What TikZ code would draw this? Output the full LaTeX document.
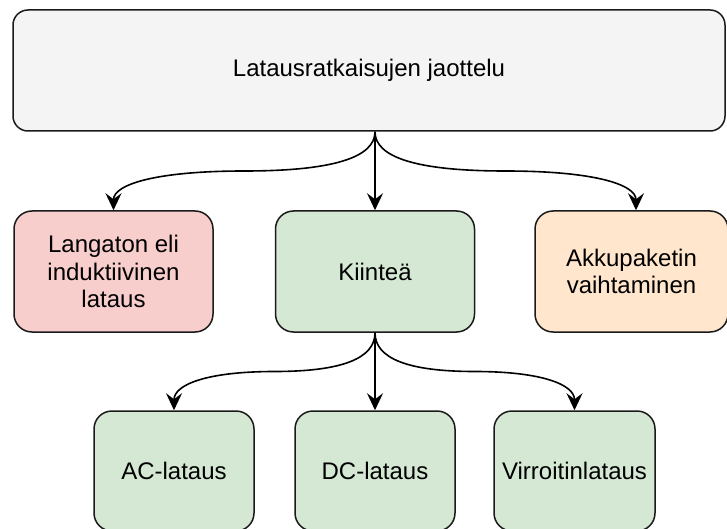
\documentclass[tikz,border=0pt]{standalone}
\usepackage{fontspec}
\setmainfont{Liberation Sans}
\usetikzlibrary{arrows.meta,calc}

\definecolor{boxline}{HTML}{1A1A1A}
\definecolor{rootfill}{HTML}{F4F4F4}
\definecolor{redfill}{HTML}{F8CECC}
\definecolor{greenfill}{HTML}{D5E8D4}
\definecolor{orangefill}{HTML}{FFE6CC}

\tikzset{
  box/.style={draw=boxline, line width=1.5pt, rounded corners=18pt,
    align=center, inner sep=0pt, text=black,
    font=\fontsize{24}{27.8}\selectfont},
  link/.style={draw=black, line width=1.6pt,
    -{Stealth[length=17pt,width=16pt,inset=6pt]}},
}

% draw.io style curved connector: vertical out, horizontal middle, vertical in
\newcommand\treelink[2]{%
  \draw[link] let \p1=(#1), \p2=(#2),
      \n1={0.5*(\y1+\y2)}, \n2={0.5*(\x1+\x2)} in
    (\p1) .. controls (\x1,{\y1+2/3*(\n1-\y1)}) and ({\n2+2/3*(\x1-\n2)},\n1)
    .. (\n2,\n1)
    .. controls ({\n2+2/3*(\x2-\n2)},\n1) and (\x2,{\y2+2/3*(\n1-\y2)})
    .. (\p2);}

\begin{document}
\begin{tikzpicture}[x=1pt,y=-1pt]
  \useasboundingbox (0,0) rectangle (727,529);
  \clip (0,0) rectangle (727,529);

  % root
  \node[box, fill=rootfill, rounded corners=15pt,
        minimum width=712pt, minimum height=121pt] (root) at (369,70.5)
        {Latausratkaisujen jaottelu};

  % second level
  \node[box, fill=redfill, minimum width=199pt, minimum height=121pt]
        (wireless) at (113.5,271.5) {Langaton eli\\induktiivinen\\lataus};
  \node[box, fill=greenfill, minimum width=199pt, minimum height=121pt]
        (fixed) at (375,271.5) {Kiinteä};
  \node[box, fill=orangefill, minimum width=193pt, minimum height=121pt]
        (swap) at (631.5,271.5) {Akkupaketin\\vaihtaminen};

  % third level
  \node[box, fill=greenfill, minimum width=160pt, minimum height=120pt]
        (ac) at (174,471) {AC-lataus};
  \node[box, fill=greenfill, minimum width=160pt, minimum height=120pt]
        (dc) at (375,471) {DC-lataus};
  \node[box, fill=greenfill, minimum width=161pt, minimum height=120pt]
        (pant) at (574.5,471) {Virroitinlataus};

  % connectors
  \coordinate (rootout) at (root.south -| fixed.north);
  \treelink{rootout}{wireless.north}
  \draw[link] (rootout) -- (fixed.north);
  \treelink{rootout}{[xshift=4.5pt]swap.north}

  \coordinate (fixedout) at (fixed.south -| dc.north);
  \treelink{fixedout}{ac.north}
  \draw[link] (fixedout) -- (dc.north);
  \treelink{fixedout}{pant.north}
\end{tikzpicture}
\end{document}
